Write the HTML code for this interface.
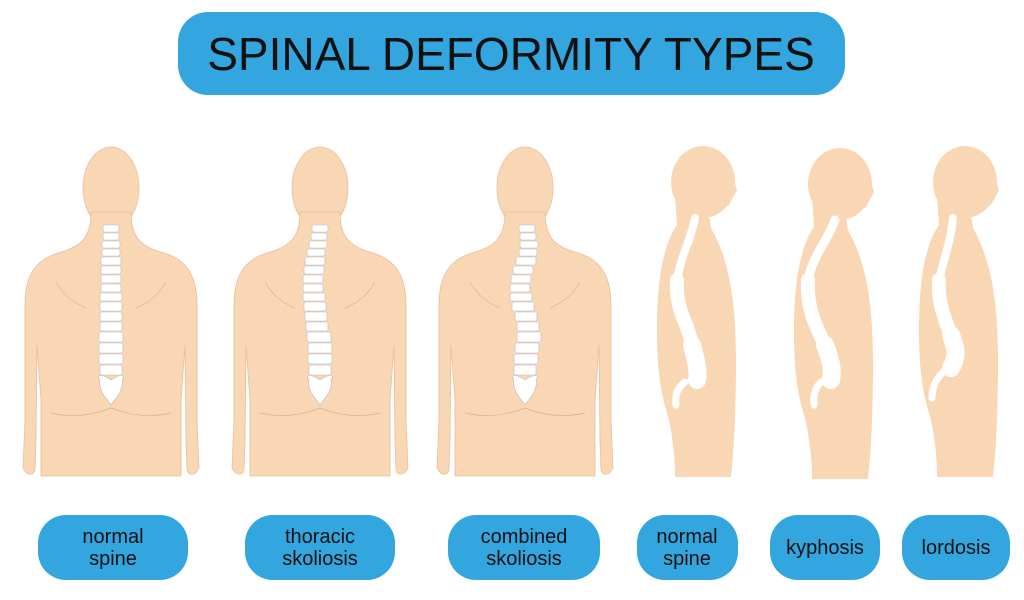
<!DOCTYPE html>
<html><head><meta charset="utf-8"><style>
body{margin:0;background:#fff;width:1024px;height:595px;overflow:hidden}
</style></head><body>
<svg width="1024" height="595" viewBox="0 0 1024 595" xmlns="http://www.w3.org/2000/svg" font-family="Liberation Sans, sans-serif">
<defs>
<g id="back">
<ellipse cx="0" cy="188" rx="28" ry="41" fill="#f9d7b5" stroke="#e8bf9c" stroke-width="0.8"/>
<path d="M-20,212 C-20,235 -28,246 -50,252 C-76,259 -86,276 -86,305 L-86,420 L-88,468 C-84,476 -78,476 -76,470 L-75,440 L-74,345 L-70,400 L-70,476 L70,476 L70,400 L74,345 L75,440 L76,470 C78,476 84,476 88,468 L86,420 L86,305 C86,276 76,259 50,252 C28,246 20,235 20,212 Z" fill="#f9d7b5" stroke="#e8bf9c" stroke-width="0.8"/>
<path d="M-55,282 Q-45,300 -25,308 M55,282 Q45,300 25,308 M-60,413 Q-30,420 0,408 Q30,420 60,413" fill="none" stroke="#d9b08e" stroke-width="0.7"/>
</g>
<g id="side">
<ellipse cx="0" cy="182" rx="32" ry="36" fill="#f9d7b5"/>
<path d="M-28,195 L-26,225 C-40,245 -46,280 -46,330 C-46,380 -40,400 -34,420 C-30,440 -28,460 -28,477 L28,477 C32,440 33,400 33,360 C33,300 26,260 8,228 L6,215 L26,205 L34,190 L28,170 Z" fill="#f9d7b5"/>
</g>
</defs>
<rect x="178" y="12" width="667" height="83" rx="30" fill="#33a6df"/>
<text x="511" y="70" text-anchor="middle" font-size="46" fill="#111">SPINAL DEFORMITY TYPES</text>

<use href="#back" x="111" y="0"/>
<use href="#back" x="320" y="0"/>
<use href="#back" x="525" y="0"/>
<g fill="#fff" stroke="#bbb" stroke-width="0.6">
<rect x="103" y="225" width="16" height="7" rx="2"/><rect x="103" y="233" width="16" height="7" rx="2"/><rect x="102" y="241" width="18" height="7" rx="2"/><rect x="102" y="249" width="18" height="7" rx="2"/><rect x="101" y="257" width="20" height="8" rx="2"/><rect x="101" y="266" width="20" height="8" rx="2"/><rect x="101" y="275" width="20" height="8" rx="2"/><rect x="101" y="284" width="20" height="8" rx="2"/><rect x="100" y="293" width="22" height="8" rx="2"/><rect x="100" y="302" width="22" height="9" rx="2"/><rect x="100" y="312" width="22" height="9" rx="2"/><rect x="100" y="322" width="22" height="9" rx="2"/><rect x="99" y="332" width="24" height="10" rx="2"/><rect x="99" y="343" width="24" height="10" rx="2"/><rect x="99" y="354" width="24" height="10" rx="2"/><rect x="100" y="365" width="22" height="10" rx="2"/>
<path d="M100,380 C95,372 105,376 111,380 C117,376 127,372 122,380 C124,392 115,398 111,405 C107,398 98,392 100,380Z"/>
<rect x="312" y="225" width="16" height="7" rx="2"/><rect x="311" y="233" width="16" height="7" rx="2"/><rect x="309" y="241" width="18" height="7" rx="2"/><rect x="307" y="249" width="18" height="7" rx="2"/><rect x="305" y="257" width="20" height="8" rx="2"/><rect x="304" y="266" width="20" height="8" rx="2"/><rect x="303" y="275" width="20" height="8" rx="2"/><rect x="303" y="284" width="20" height="8" rx="2"/><rect x="303" y="293" width="22" height="8" rx="2"/><rect x="304" y="302" width="22" height="9" rx="2"/><rect x="305" y="312" width="22" height="9" rx="2"/><rect x="306" y="322" width="22" height="9" rx="2"/><rect x="307" y="332" width="24" height="10" rx="2"/><rect x="308" y="343" width="24" height="10" rx="2"/><rect x="308" y="354" width="24" height="10" rx="2"/><rect x="309" y="365" width="22" height="10" rx="2"/>
<path d="M309,380 C304,372 314,376 320,380 C326,376 336,372 331,380 C333,392 324,398 320,405 C316,398 307,392 309,380Z"/>
<rect x="519" y="225" width="16" height="7" rx="2"/><rect x="520" y="233" width="16" height="7" rx="2"/><rect x="520" y="241" width="18" height="7" rx="2"/><rect x="519" y="249" width="18" height="7" rx="2"/><rect x="516" y="257" width="20" height="8" rx="2"/><rect x="513" y="266" width="20" height="8" rx="2"/><rect x="511" y="275" width="20" height="8" rx="2"/><rect x="510" y="284" width="20" height="8" rx="2"/><rect x="510" y="293" width="22" height="8" rx="2"/><rect x="512" y="302" width="22" height="9" rx="2"/><rect x="515" y="312" width="22" height="9" rx="2"/><rect x="517" y="322" width="22" height="9" rx="2"/><rect x="517" y="332" width="24" height="10" rx="2"/><rect x="515" y="343" width="24" height="10" rx="2"/><rect x="514" y="354" width="24" height="10" rx="2"/><rect x="514" y="365" width="22" height="10" rx="2"/>
<path d="M514,380 C509,372 519,376 525,380 C531,376 541,372 536,380 C538,392 529,398 525,405 C521,398 512,392 514,380Z"/>
</g>

<use href="#side" x="703" y="0"/>
<use href="#side" x="840" y="2"/>
<use href="#side" x="965" y="0"/>
<g fill="none" stroke="#fff" stroke-linecap="round" stroke-linejoin="round">
<g transform="translate(9,0)">
<path d="M686,218 C682,240 672,255 668,280" stroke-width="8"/>
<path d="M668,280 C666,310 680,325 683,345" stroke-width="14"/>
<path d="M683,345 C687,360 690,372 688,380" stroke-width="18"/>
<path d="M676,382 C668,388 666,395 667,405" stroke-width="7"/>
</g>
<g transform="translate(13,0)">
<path d="M822,220 C815,240 800,255 795,280" stroke-width="9"/>
<path d="M795,280 C793,310 805,330 812,345" stroke-width="14"/>
<path d="M812,345 C818,360 820,370 818,380" stroke-width="18"/>
<path d="M808,382 C802,388 800,395 801,405" stroke-width="7"/>
</g>
<g transform="translate(7,0)">
<path d="M946,218 C944,240 938,255 932,280" stroke-width="8"/>
<path d="M932,280 C930,300 938,320 944,335" stroke-width="14"/>
<path d="M944,335 C950,350 950,358 944,368" stroke-width="18"/>
<path d="M936,372 C928,380 925,388 925,398" stroke-width="7"/>
</g>
</g>

<g fill="#33a6df">
<rect x="38" y="515" width="150" height="65" rx="28"/>
<rect x="245" y="515" width="150" height="65" rx="28"/>
<rect x="448" y="515" width="152" height="65" rx="28"/>
<rect x="637" y="515" width="101" height="65" rx="28"/>
<rect x="770" y="515" width="110" height="65" rx="28"/>
<rect x="902" y="515" width="108" height="65" rx="28"/>
</g>
<g font-size="20" fill="#111" text-anchor="middle">
<text x="113" y="543">normal</text><text x="113" y="565">spine</text>
<text x="320" y="543">thoracic</text><text x="320" y="565">skoliosis</text>
<text x="524" y="543">combined</text><text x="524" y="565">skoliosis</text>
<text x="687" y="543">normal</text><text x="687" y="565">spine</text>
<text x="825" y="554">kyphosis</text>
<text x="956" y="554">lordosis</text>
</g>
</svg>
</body></html>
